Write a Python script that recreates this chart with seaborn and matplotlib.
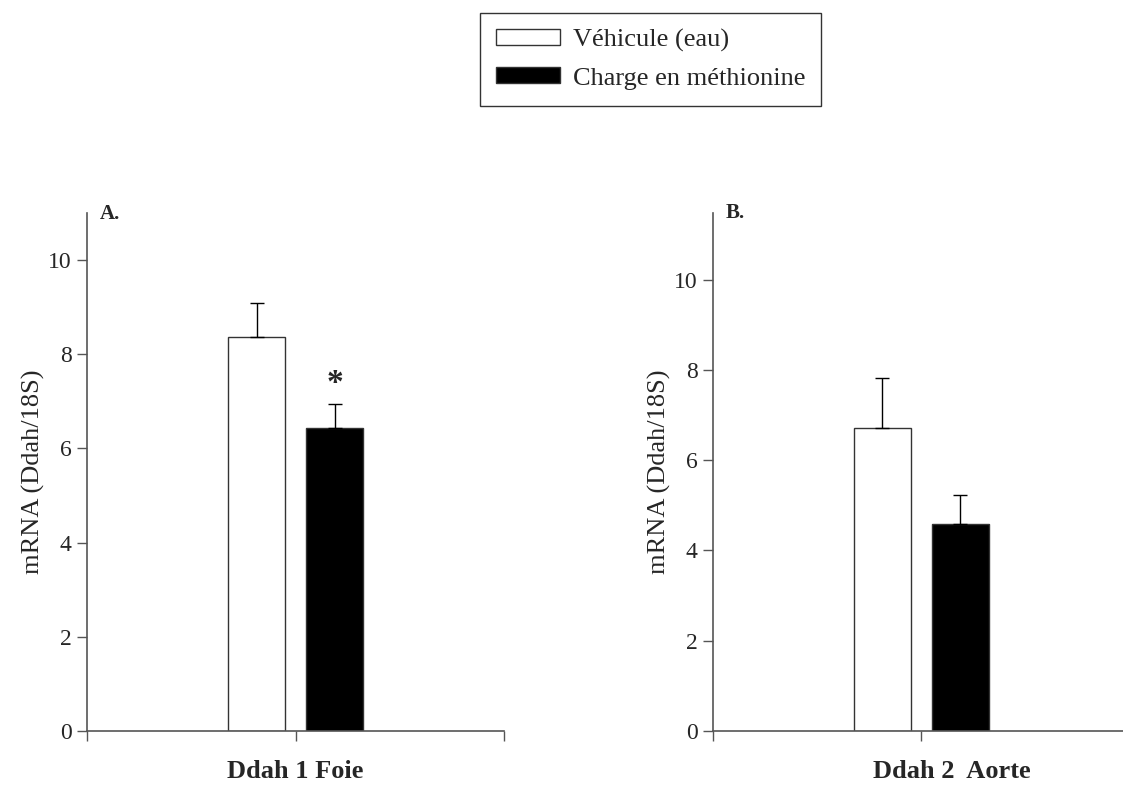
import numpy as np
import pandas as pd
import matplotlib
matplotlib.use("Agg")
import matplotlib.pyplot as plt
import seaborn as sns

groups = ["Véhicule (eau)", "Charge en méthionine"]
foie_mean = [8.37, 6.43]
foie_sem = [0.72, 0.51]
aorte_mean = [6.71, 4.59]
aorte_sem = [1.11, 0.64]
colors = ["white", "black"]

sns.set_style("ticks")
plt.rcParams["font.family"] = ["Liberation Serif", "DejaVu Serif"]

fig = plt.figure(figsize=(11.23, 7.90), dpi=100)
axA = fig.add_axes([0.0775, 0.0747, 0.3713, 0.6557])
axB = fig.add_axes([0.6349, 0.0751, 0.3713, 0.6557])


def panel(ax, name, means, sems, ymax, yticks, letter, xlab_x):
    df = pd.DataFrame({"tissu": [name] * 2, "groupe": groups, "val": means})
    sns.barplot(data=df, x="tissu", y="val", hue="groupe", hue_order=groups,
                palette=colors, width=0.374, gap=0.27, errorbar=None,
                edgecolor="#333333", linewidth=1, ax=ax)
    for cont, s in zip(ax.containers, sems):
        for bar in cont:
            xc = bar.get_x() + bar.get_width() / 2
            h = bar.get_height()
            ax.errorbar([xc], [h], yerr=[[0], [s]], fmt="none", ecolor="black",
                        elinewidth=1, capsize=5, capthick=1)
    ax.set_xlim(-0.5, 0.5)
    ax.set_ylim(0, ymax)
    ax.set_yticks(yticks)
    ax.set_xticks([-0.5, 0, 0.5])
    ax.set_xticklabels([])
    ax.tick_params(axis="both", direction="out", length=7, width=1, color="#555555",
                   labelsize=17, pad=4)
    for sp in ["top", "right"]:
        ax.spines[sp].set_visible(False)
    for sp in ["left", "bottom"]:
        ax.spines[sp].set_color("#555555")
        ax.spines[sp].set_linewidth(1.2)
    ax.set_ylabel("mRNA (Ddah/18S)", fontsize=19)
    ax.yaxis.set_label_coords(-0.10, 0.5)
    ax.set_xlabel(name, fontsize=19, fontweight="bold")
    ax.xaxis.set_label_coords(xlab_x, -0.056)
    ax.text(0.031, 1.018, letter, transform=ax.transAxes, fontsize=15,
            fontweight="bold", ha="left", va="top")
    handles, labels = ax.get_legend_handles_labels()
    if ax.get_legend() is not None:
        ax.get_legend().remove()
    return handles, labels


handles, labels = panel(axA, "Ddah 1 Foie", foie_mean, foie_sem, 11, [0, 2, 4, 6, 8, 10], "A.", 0.5)
panel(axB, "Ddah 2  Aorte", aorte_mean, aorte_sem, 11.5, [0, 2, 4, 6, 8, 10], "B.", 0.573)

# asterisk above the methionine bar in panel A
bar = axA.containers[1][0]
axA.text(bar.get_x() + bar.get_width() / 2, foie_mean[1] + foie_sem[1] + 0.1, "*",
         ha="center", va="bottom", fontsize=24, fontweight="bold")

leg = fig.legend(handles, labels, loc="upper center", bbox_to_anchor=(0.5795, 0.984),
                 fontsize=19, frameon=True, fancybox=False, handlelength=2.4,
                 handleheight=0.55, borderpad=0.6, labelspacing=0.6, handletextpad=0.5,
                 borderaxespad=0)
leg.get_frame().set_edgecolor("black")
leg.get_frame().set_linewidth(1)

fig.savefig("out.png", dpi=100)
